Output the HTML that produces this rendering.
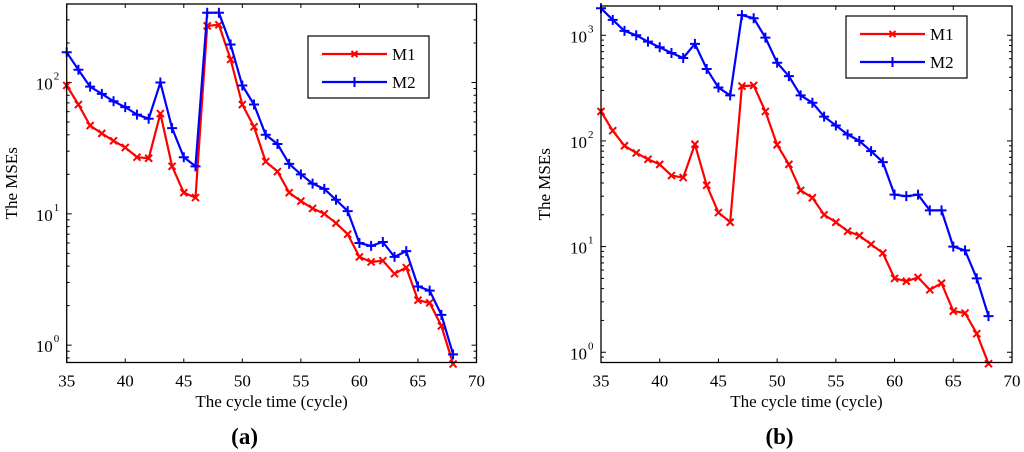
<!DOCTYPE html>
<html><head><meta charset="utf-8"><style>
html,body{margin:0;padding:0;background:#fff;}
svg{display:block;font-family:"Liberation Serif",serif;}
</style></head><body>
<svg id="fig" width="1024" height="452" xmlns="http://www.w3.org/2000/svg"></svg>
<script>
const xs = [35,36,37,38,39,40,41,42,43,44,45,46,47,48,49,50,51,52,53,54,55,56,57,58,59,60,61,62,63,64,65,66,67,68];
const m1a = [95,68,47,41,36,32,27,26.5,58,23,14.5,13.3,270,275,150,68,46,25,21,14.5,12.5,11,10,8.5,7,4.7,4.3,4.4,3.5,3.9,2.2,2.1,1.4,0.72];
const m2a = [170,125,93,82,72,65,57,53,100,45,27,23,340,340,195,95,68,40,34,24,20,17,15.5,12.8,10.5,6,5.7,6.1,4.7,5.2,2.8,2.6,1.7,0.85];
const m1b = [190,125,90,77,67,60,47,45,93,38,21,17,330,335,190,92,60,34,29,20,17,14,12.7,10.5,8.7,5,4.7,5.1,3.9,4.5,2.45,2.35,1.5,0.78];
const m2b = [1800,1400,1100,1000,870,770,680,610,830,480,320,270,1550,1450,950,550,410,270,230,170,140,115,100,80,63,31,30,31,22,22,10,9.2,5,2.2];
const xTicks = [35,40,45,50,55,60,65,70];
const yTicksA = [0,1,2];
const yTicksB = [0,1,2,3];
const legendLabels = ["M1","M2"];

const NS="http://www.w3.org/2000/svg";
const svg=document.getElementById('fig');
function mk(tag,attrs,parent){const e=document.createElementNS(NS,tag);for(const k in attrs)e.setAttribute(k,attrs[k]);(parent||svg).appendChild(e);return e;}

function panel(cfg){
  const g=mk('g',{});
  
  
  const X=v=>cfg.x0+(v-35)/(70-35)*(cfg.x1-cfg.x0);
  const Y=v=>cfg.y0-(Math.log10(v)-cfg.lmin)/(cfg.lmax-cfg.lmin)*(cfg.y0-cfg.y1);
  xTicks.forEach(t=>{
    const px=X(t);
    mk('line',{x1:px,x2:px,y1:cfg.y0,y2:cfg.y0-4,stroke:'#000'},g);
    mk('line',{x1:px,x2:px,y1:cfg.y1,y2:cfg.y1+4,stroke:'#000'},g);
    const tx=mk('text',{x:px,y:cfg.y0+24,'font-size':17,'text-anchor':'middle',fill:'#000'},g);
    tx.textContent=t;
    
    
  });
  for(let d=Math.floor(cfg.lmin);d<=Math.ceil(cfg.lmax);d++){
    for(let m=1;m<10;m++){
      const l=d+Math.log10(m);
      if(l<cfg.lmin||l>cfg.lmax)continue;
      const py=cfg.y0-(l-cfg.lmin)/(cfg.lmax-cfg.lmin)*(cfg.y0-cfg.y1);
      const len=m===1?5:3;
      mk('line',{x1:cfg.x0,x2:cfg.x0+len,y1:py,y2:py,stroke:'#000'},g);
      mk('line',{x1:cfg.x1,x2:cfg.x1-len,y1:py,y2:py,stroke:'#000'},g);
    }
  }
  cfg.yt.forEach(d=>{
    const py=Y(Math.pow(10,d));
    const tx=mk('text',{x:cfg.x0-14,y:py+7,'font-size':17,'text-anchor':'end',fill:'#000'},g);
    tx.textContent='10';
    
    
    const sup=mk('text',{x:cfg.x0-13,y:py-3,'font-size':11,fill:'#000'},g);
    sup.textContent=d;
  });
  [[cfg.s1,'#ff0000','x','series-m1'],[cfg.s2,'#0000ff','+','series-m2']].forEach(([vals,col,mkr,nm])=>{
    const pts=vals.map((v,i)=>X(xs[i]).toFixed(1)+','+Y(v).toFixed(1)).join(' ');
    const sg=mk('g',{},g);
    
    
    mk('polyline',{points:pts,fill:'none',stroke:col,'stroke-width':2.2,'stroke-linejoin':'round'},sg);
    vals.forEach((v,i)=>{
      const px=X(xs[i]),py=Y(v);
      if(mkr==='x'){
        mk('path',{d:`M${px-3.5},${py-3.5}L${px+3.5},${py+3.5}M${px-3.5},${py+3.5}L${px+3.5},${py-3.5}`,stroke:col,'stroke-width':2},sg);
      }else{
        mk('path',{d:`M${px-5},${py}L${px+5},${py}M${px},${py-5}L${px},${py+5}`,stroke:col,'stroke-width':2},sg);
      }
    });
  });
  mk('rect',{x:cfg.x0,y:cfg.y1,width:cfg.x1-cfg.x0,height:cfg.y0-cfg.y1,fill:'none',stroke:'#000','stroke-width':1.3},g);
  const lg=mk('g',{},g);
  
  
  const L=cfg.leg;
  mk('rect',{x:L[0],y:L[1],width:121,height:62,fill:'#fff',stroke:'#000','stroke-width':1.2},lg);
  [['#ff0000','x'],['#0000ff','+']].forEach(([col,m],i)=>{
    const ly=L[1]+18+i*28, lx0=L[0]+14, lx1=L[0]+79, cx=(lx0+lx1)/2;
    mk('line',{x1:lx0,x2:lx1,y1:ly,y2:ly,stroke:col,'stroke-width':2.2},lg);
    if(m==='x')mk('path',{d:`M${cx-3},${ly-3}L${cx+3},${ly+3}M${cx-3},${ly+3}L${cx+3},${ly-3}`,stroke:col,'stroke-width':2},lg);
    else mk('path',{d:`M${cx},${ly-5}L${cx},${ly+5}`,stroke:col,'stroke-width':2},lg);
    const t=mk('text',{x:L[0]+84,y:ly+6,'font-size':17,fill:'#000'},lg);
    t.textContent=legendLabels[i];
    
    
  });
  const xl=mk('text',{x:(cfg.x0+cfg.x1)/2,y:407,'font-size':17,'text-anchor':'middle',fill:'#000'},g);
  xl.textContent='The cycle time (cycle)';
  
  
  const yc=(cfg.y0+cfg.y1)/2;
  const yl=mk('text',{x:cfg.ylx,y:yc,'font-size':17,'text-anchor':'middle',fill:'#000',transform:`rotate(-90 ${cfg.ylx} ${yc})`},g);
  yl.textContent='The MSEs';
  
  
  const pl=mk('text',{x:(cfg.x0+cfg.x1)/2-27,y:444,'font-size':23,'font-weight':'bold','text-anchor':'middle',fill:'#000'},g);
  pl.textContent=cfg.label;
  
  
}
panel({name:'panel-a',x0:66.7,x1:476.5,y0:362.5,y1:4,lmin:-0.132,lmax:2.598,s1:m1a,s2:m2a,yt:yTicksA,leg:[308,36],ylx:17,label:'(a)'});
panel({name:'panel-b',x0:601,x1:1012,y0:362.5,y1:6,lmin:-0.097,lmax:3.277,s1:m1b,s2:m2b,yt:yTicksB,leg:[846,16],ylx:550,label:'(b)'});
</script>
</body></html>
